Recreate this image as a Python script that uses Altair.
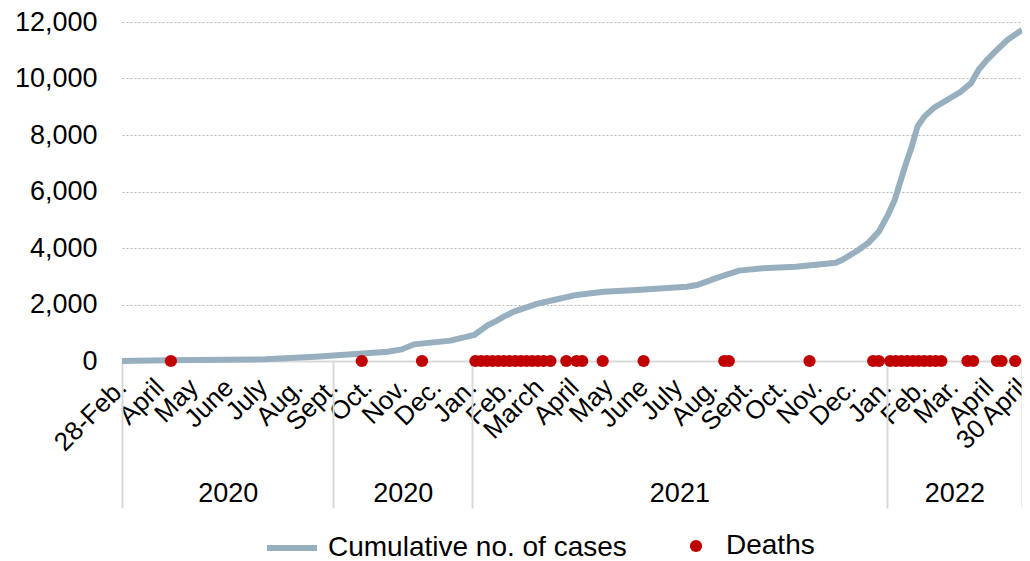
import json
import altair as alt
import pandas as pd

START = "2020-02-28"

case_dates = ["2020-02-28", "2020-04-07", "2020-07-03", "2020-08-16", "2020-09-14", "2020-10-19",
              "2020-10-31", "2020-11-11", "2020-12-13", "2021-01-03", "2021-01-15", "2021-01-23",
              "2021-01-29", "2021-02-07", "2021-02-27", "2021-03-14", "2021-04-03", "2021-04-27",
              "2021-05-26", "2021-07-09", "2021-07-18", "2021-08-07", "2021-08-24", "2021-09-14",
              "2021-10-13", "2021-11-17", "2021-11-23", "2021-12-07", "2021-12-16", "2021-12-25",
              "2022-01-02", "2022-01-08", "2022-01-17", "2022-01-23", "2022-01-28", "2022-02-03",
              "2022-02-12", "2022-02-23", "2022-03-07", "2022-03-16", "2022-03-23", "2022-03-30",
              "2022-04-08", "2022-04-17", "2022-04-30"]
case_values = [0, 30, 60, 150, 230, 330, 410, 590, 720, 920,
               1270, 1430, 1570, 1750, 2020, 2160, 2340, 2450, 2510, 2630,
               2690, 2980, 3200, 3280, 3340, 3480, 3580, 3930, 4190, 4580,
               5170, 5700, 6880, 7590, 8300, 8650, 8980, 9240, 9530, 9830,
               10320, 10650, 11010, 11360, 11720]

death_dates = ["2020-04-11", "2020-09-26", "2020-11-18",
               "2021-01-04", "2021-01-09", "2021-01-14", "2021-01-19", "2021-01-24", "2021-01-29",
               "2021-02-03", "2021-02-08", "2021-02-13", "2021-02-18", "2021-02-23", "2021-02-28",
               "2021-03-05", "2021-03-11", "2021-03-25", "2021-04-03", "2021-04-08", "2021-04-26",
               "2021-06-01", "2021-08-11", "2021-08-15", "2021-10-25", "2021-12-20", "2021-12-25",
               "2022-01-04", "2022-01-09", "2022-01-14", "2022-01-19", "2022-01-24", "2022-01-29",
               "2022-02-03", "2022-02-08", "2022-02-13", "2022-02-18", "2022-03-13", "2022-03-18",
               "2022-04-08", "2022-04-12", "2022-04-24"]

tick_dates = ["2020-02-28", "2020-04-01", "2020-05-01", "2020-06-01", "2020-07-01", "2020-08-01",
              "2020-09-01", "2020-10-01", "2020-11-01", "2020-12-01",
              "2021-01-01", "2021-02-01", "2021-03-01", "2021-04-01", "2021-05-01", "2021-06-01",
              "2021-07-01", "2021-08-01", "2021-09-01", "2021-10-01", "2021-11-01", "2021-12-01",
              "2022-01-01", "2022-02-01", "2022-03-01", "2022-04-01", "2022-04-30"]
tick_labels = ["28-Feb.", "April", "May", "June", "July", "Aug.", "Sept.", "Oct.", "Nov.", "Dec.",
               "Jan.", "Feb.", "March", "April", "May", "June", "July", "Aug.", "Sept.", "Oct.", "Nov.", "Dec.",
               "Jan.", "Feb.", "Mar.", "April", "30 April"]

group_bounds = ["2020-02-28", "2020-09-01", "2021-01-01", "2022-01-01", "2022-04-30"]
group_labels = ["2020", "2020", "2021", "2022"]

y_ticks = [0, 2000, 4000, 6000, 8000, 10000, 12000]


def day(s):
    return (pd.Timestamp(s) - pd.Timestamp(START)).days


tick_days = [day(d) for d in tick_dates]
bound_days = [day(d) for d in group_bounds]
center_days = [(a + b) / 2 for a, b in zip(bound_days[:-1], bound_days[1:])]

cases = pd.DataFrame({"day": [day(d) for d in case_dates], "value": case_values,
                      "series": "Cumulative no. of cases"})
deaths = pd.DataFrame({"day": [day(d) for d in death_dates], "series": "Deaths"})
years = pd.DataFrame({"day": center_days, "label": group_labels})

FONT = "Liberation Sans"
xscale = alt.Scale(domain=[0, bound_days[-1]], nice=False, zero=False)
yscale = alt.Scale(domain=[0, 12000], nice=False)

month_expr = f"{json.dumps(tick_labels)}[indexof({json.dumps(tick_days)}, datum.value)]"
year_expr = f"{json.dumps(group_labels)}[indexof({json.dumps(center_days)}, datum.value)]"

month_axis = alt.Axis(values=tick_days, labelExpr=month_expr, orient="bottom", title=None,
                      labelAngle=-45, labelAlign="right", labelBaseline="middle",
                      labelPadding=22, labelFontSize=26, labelColor="#000", labelFont=FONT,
                      ticks=False, grid=False, domainColor="#d9d9d9", domainWidth=2,
                      labelOverlap=False, labelFlush=False, labelBound=False, labelLimit=0)
sep_axis = alt.Axis(values=bound_days, orient="bottom", title=None, labels=False,
                    ticks=True, tickSize=147, tickWidth=2, tickColor="#d9d9d9",
                    grid=False, domain=False)
year_axis = alt.Axis(values=center_days, labelExpr=year_expr, orient="bottom", title=None,
                     ticks=False, grid=False, domain=False, labelPadding=132,
                     labelBaseline="middle", labelFontSize=27, labelColor="#000", labelFont=FONT,
                     labelOverlap=False, labelFlush=False, labelBound=False)
y_axis = alt.Axis(values=y_ticks, labelExpr="format(datum.value, ',')", title=None,
                  ticks=False, domain=False,
                  labelPadding=25, labelFontSize=27, labelColor="#000", labelFont=FONT,
                  grid=True, gridDash=[2, 2], gridColor="#b5b5b5", gridWidth=1)

line = alt.Chart(cases).mark_line(strokeWidth=6).encode(
    x=alt.X("day:Q", scale=xscale, axis=month_axis),
    y=alt.Y("value:Q", scale=yscale, axis=y_axis),
    color=alt.Color("series:N",
                    scale=alt.Scale(domain=["Cumulative no. of cases"], range=["#98afc0"]),
                    legend=alt.Legend(orient="none", legendX=142, legendY=498, title=None,
                                      symbolType="stroke", symbolSize=2500, symbolStrokeWidth=6,
                                      labelFontSize=28, labelFont=FONT, labelColor="#000",
                                      labelOffset=8, labelLimit=0)),
)

points = alt.Chart(deaths).mark_circle(size=150, opacity=1).encode(
    x=alt.X("day:Q", scale=xscale, axis=sep_axis),
    y=alt.YDatum(0, scale=yscale, axis=y_axis),
    fill=alt.Fill("series:N", scale=alt.Scale(domain=["Deaths"], range=["#c00000"]),
                  legend=alt.Legend(orient="none", legendX=560, legendY=510, title=None,
                                    symbolType="circle", symbolSize=150, symbolStrokeWidth=0,
                                    labelFontSize=28, labelFont=FONT, labelColor="#000",
                                    labelOffset=16, labelLimit=0)),
)

year_layer = alt.Chart(years).mark_rule(opacity=0).encode(
    x=alt.X("day:Q", scale=xscale, axis=year_axis),
)

chart = alt.layer(line, points, year_layer).resolve_axis(x="independent").properties(
    width=900, height=339,
    autosize=alt.AutoSizeParams(type="none"),
    padding={"left": 114, "top": 14, "right": 0, "bottom": 199},
).configure(font=FONT, view=alt.ViewConfig(stroke=None))

chart.save("out.html", embed_options={"renderer": "svg", "actions": False})
